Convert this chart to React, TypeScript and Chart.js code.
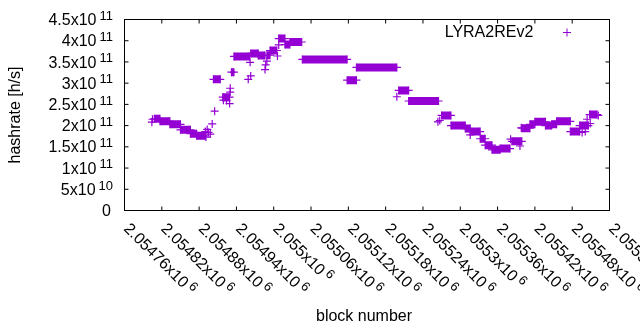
import React, { useEffect, useRef } from "react";
import { Chart, registerables } from "chart.js";

Chart.register(...registerables);

// ---- data ----
const seriesLabel = "LYRA2REv2";
const xTitle = "block number";
const yTitle = "hashrate [h/s]";

const xMin = 2054760;
const xMax = 2055540;
const xStep = 60;
const yMin = 0;
const yMax = 4.5e11;
const yStep = 5e10;

// runs of blocks that share (almost) the same hashrate: drawn as dense "+" bands
const runStart = [
  2054808, 2054817, 2054833, 2054850, 2054866, 2054876, 2054903, 2054918, 2054932, 2054936,
  2054963, 2054975, 2054989, 2054994, 2055008, 2055018, 2055026, 2055046, 2055118, 2055133,
  2055201, 2055217, 2055270, 2055285, 2055308, 2055316, 2055332, 2055340, 2055351, 2055364,
  2055383, 2055399, 2055412, 2055420, 2055437, 2055447, 2055455, 2055477, 2055492, 2055508,
];
const runEnd = [
  2054817, 2054833, 2054850, 2054866, 2054876, 2054890, 2054914, 2054929, 2054936, 2054961,
  2054975, 2054986, 2054994, 2055005, 2055018, 2055026, 2055045, 2055118, 2055133, 2055198,
  2055217, 2055265, 2055285, 2055308, 2055316, 2055332, 2055340, 2055351, 2055364, 2055380,
  2055399, 2055412, 2055420, 2055437, 2055447, 2055455, 2055477, 2055492, 2055506, 2055520,
];
const runValue = [
  2.16e11, 2.10e11, 2.03e11, 1.90e11, 1.81e11, 1.76e11, 3.09e11, 2.67e11, 3.26e11, 3.63e11,
  3.70e11, 3.65e11, 3.66e11, 3.77e11, 4.05e11, 3.91e11, 3.97e11, 3.56e11, 3.07e11, 3.37e11,
  2.83e11, 2.58e11, 2.24e11, 2.00e11, 1.93e11, 1.86e11, 1.69e11, 1.54e11, 1.43e11, 1.46e11,
  1.63e11, 1.94e11, 2.03e11, 2.09e11, 2.00e11, 2.03e11, 2.10e11, 1.86e11, 2.00e11, 2.26e11,
];

// isolated samples
const pointBlock = [
  2054804, 2054805, 2054890, 2054891, 2054893, 2054895, 2054898, 2054901, 2054905, 2054919,
  2054924, 2054929, 2054930, 2054930, 2054959, 2054962, 2054963, 2054986, 2054987, 2054989,
  2055006, 2055008, 2055198, 2055264, 2055267, 2055316, 2055381, 2055396, 2055398, 2055496,
  2055501, 2055504, 2055509, 2055522,
];
const pointValue = [
  2.08e11, 2.15e11, 1.86e11, 1.73e11, 1.91e11, 1.84e11, 1.80e11, 2.04e11, 2.34e11, 2.60e11,
  2.59e11, 2.52e11, 2.88e11, 2.79e11, 3.09e11, 3.49e11, 3.17e11, 3.32e11, 3.43e11, 3.52e11,
  3.64e11, 3.90e11, 2.68e11, 2.09e11, 2.12e11, 1.78e11, 1.68e11, 1.52e11, 1.95e11, 1.84e11,
  1.86e11, 2.15e11, 2.05e11, 2.24e11,
];

// ---- styling ----
const PURPLE = "#9400d3";
const FONT = "'Liberation Sans', Arial, sans-serif";
const MAIN_PX = 16;
const SUP_PX = 13;
const TICK = 4;
const MARK_R = 4;

function sciParts(v: number): [string, string] {
  if (Math.abs(v) < 1e-9) return ["0", ""];
  const e = Math.floor(Math.log10(Math.abs(v)) + 1e-9);
  const m = v / Math.pow(10, e);
  const ms = parseFloat(m.toPrecision(6)).toString();
  return [ms + "x10", String(e)];
}

const decorPlugin = {
  id: "gnuplotDecor",
  afterDraw(chart: any) {
    const ctx: CanvasRenderingContext2D = chart.ctx;
    const { left, right, top, bottom } = chart.chartArea;
    const xs = chart.scales.x;
    const ys = chart.scales.y;
    ctx.save();
    // frame
    ctx.strokeStyle = "#000";
    ctx.lineWidth = 1;
    ctx.strokeRect(left, top, right - left, bottom - top);
    // inward ticks, mirrored
    ctx.beginPath();
    for (const t of ys.ticks) {
      const y = ys.getPixelForValue(t.value);
      ctx.moveTo(left, y);
      ctx.lineTo(left + TICK, y);
      ctx.moveTo(right, y);
      ctx.lineTo(right - TICK, y);
    }
    for (const t of xs.ticks) {
      const x = xs.getPixelForValue(t.value);
      ctx.moveTo(x, bottom);
      ctx.lineTo(x, bottom - TICK);
      ctx.moveTo(x, top);
      ctx.lineTo(x, top + TICK);
    }
    ctx.stroke();

    ctx.fillStyle = "#000";
    ctx.textAlign = "left";
    ctx.textBaseline = "alphabetic";
    const mainFont = `${MAIN_PX}px ${FONT}`;
    const supFont = `${SUP_PX}px ${FONT}`;
    const gap = 3;

    // y tick labels
    for (const t of ys.ticks) {
      const y = ys.getPixelForValue(t.value);
      const [m, e] = sciParts(t.value);
      ctx.font = mainFont;
      const mw = ctx.measureText(m).width;
      ctx.font = supFont;
      const ew = e ? ctx.measureText(e).width + gap : 2;
      const xr = left - 11.5;
      ctx.font = mainFont;
      ctx.fillText(m, xr - ew - mw, y + 5.6);
      if (e) {
        ctx.font = supFont;
        ctx.fillText(e, xr - ew + gap, y + 0.3);
      }
    }

    // x tick labels, rotated 45 degrees clockwise
    for (const t of xs.ticks) {
      const x = xs.getPixelForValue(t.value);
      const [m, e] = sciParts(t.value);
      ctx.save();
      ctx.translate(x + 2.5, bottom + 15);
      ctx.rotate(Math.PI / 4);
      ctx.font = mainFont;
      ctx.fillText(m, 0, 5.6);
      const mw = ctx.measureText(m).width;
      if (e) {
        ctx.font = supFont;
        ctx.fillText(e, mw + gap, 0.3);
      }
      ctx.restore();
    }

    // axis titles
    ctx.font = mainFont;
    ctx.textAlign = "center";
    ctx.fillText(xTitle, 364, 321);
    ctx.save();
    ctx.translate(20, (top + bottom) / 2);
    ctx.rotate(-Math.PI / 2);
    ctx.fillText(yTitle, 0, 0);
    ctx.restore();

    // key
    ctx.textAlign = "right";
    ctx.fillText(seriesLabel, 533.3, 36.5);
    ctx.strokeStyle = PURPLE;
    ctx.beginPath();
    ctx.moveTo(567 - MARK_R, 32.5);
    ctx.lineTo(567 + MARK_R, 32.5);
    ctx.moveTo(567, 32.5 - MARK_R);
    ctx.lineTo(567, 32.5 + MARK_R);
    ctx.stroke();
    ctx.restore();
  },
};

export default function App() {
  const ref = useRef<HTMLCanvasElement | null>(null);

  useEffect(() => {
    if (!ref.current) return;
    const runData: { x: number; y: number | null }[] = [];
    runStart.forEach((s, i) => {
      runData.push({ x: s, y: runValue[i] });
      runData.push({ x: runEnd[i], y: runValue[i] });
      runData.push({ x: runEnd[i], y: null });
    });
    const pointData = pointBlock.map((b, i) => ({ x: b, y: pointValue[i] }));

    const chart = new Chart(ref.current, {
      type: "scatter",
      data: {
        datasets: [
          {
            type: "line",
            label: seriesLabel,
            data: runData as any,
            borderColor: PURPLE,
            backgroundColor: PURPLE,
            borderWidth: 8,
            borderCapStyle: "butt",
            spanGaps: false,
            tension: 0,
            fill: false,
            pointStyle: "cross",
            pointRadius: MARK_R,
            pointBorderWidth: 1.2,
            pointBorderColor: PURPLE,
            pointHoverRadius: MARK_R,
          } as any,
          {
            label: seriesLabel + " samples",
            data: pointData,
            showLine: false,
            pointStyle: "cross",
            pointRadius: MARK_R,
            pointBorderWidth: 1.2,
            borderColor: PURPLE,
            backgroundColor: PURPLE,
            pointHoverRadius: MARK_R,
          } as any,
        ],
      },
      options: {
        responsive: false,
        animation: false,
        devicePixelRatio: 1,
        layout: { padding: { left: 124.5, right: 30.5, top: 19.5, bottom: 119.5 } },
        plugins: { legend: { display: false }, tooltip: { enabled: false } },
        events: [],
        scales: {
          x: {
            type: "linear",
            min: xMin,
            max: xMax,
            ticks: { display: false, stepSize: xStep },
            grid: { display: false, drawTicks: false },
            border: { display: false },
          },
          y: {
            type: "linear",
            min: yMin,
            max: yMax,
            ticks: { display: false, stepSize: yStep },
            grid: { display: false, drawTicks: false },
            border: { display: false },
          },
        },
      },
      plugins: [decorPlugin],
    });
    return () => chart.destroy();
  }, []);

  return (
    <div style={{ position: "fixed", left: 0, top: 0, width: 640, height: 330, background: "#fff" }}>
      <canvas ref={ref} width={640} height={330} style={{ display: "block" }} />
    </div>
  );
}
